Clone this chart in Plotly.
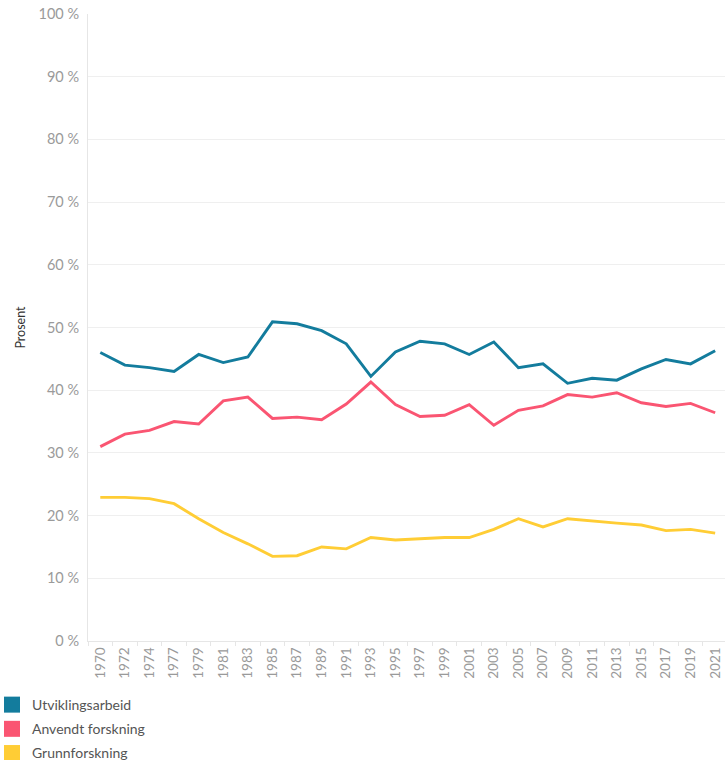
import plotly.graph_objects as go

years = ["1970", "1972", "1974", "1977", "1979", "1981", "1983", "1985", "1987", "1989",
         "1991", "1993", "1995", "1997", "1999", "2001", "2003", "2005", "2007", "2009",
         "2011", "2013", "2015", "2017", "2019", "2021"]

utvikling = [46.0, 44.0, 43.6, 43.0, 45.7, 44.4, 45.3, 50.9, 50.6, 49.5,
             47.4, 42.2, 46.1, 47.8, 47.4, 45.7, 47.7, 43.6, 44.2, 41.1,
             41.9, 41.6, 43.4, 44.9, 44.2, 46.3]
anvendt = [31.0, 33.0, 33.6, 35.0, 34.6, 38.3, 38.9, 35.5, 35.7, 35.3,
           37.8, 41.3, 37.7, 35.8, 36.0, 37.7, 34.4, 36.8, 37.5, 39.3,
           38.9, 39.6, 38.0, 37.4, 37.9, 36.4]
grunn = [22.9, 22.9, 22.7, 21.9, 19.5, 17.3, 15.5, 13.5, 13.6, 15.0,
         14.7, 16.5, 16.1, 16.3, 16.5, 16.5, 17.8, 19.5, 18.2, 19.5,
         19.1, 18.8, 18.5, 17.6, 17.8, 17.2]

series_names = ["Utviklingsarbeid", "Anvendt forskning", "Grunnforskning"]
series_values = [utvikling, anvendt, grunn]
colors = ["#137C9D", "#FA5572", "#FFCD35"]

y_ticks = list(range(0, 101, 10))
y_ticktext = [f"{v} %" for v in y_ticks]

fig = go.Figure()
for name, vals, col in zip(series_names, series_values, colors):
    fig.add_trace(go.Scatter(x=years, y=vals, mode="lines", name=name,
                             line=dict(color=col, width=2.9), showlegend=False,
                             hovertemplate="%{x}: %{y:.1f} %<extra>" + name + "</extra>"))
for i, (name, col) in enumerate(zip(series_names, colors)):
    fig.add_trace(go.Scatter(x=[None], y=[None], mode="markers", name=name,
                             marker=dict(symbol="square", size=16, color=col),
                             legendgroup=f"g{i}", showlegend=True))

fig.update_layout(
    width=725, height=760,
    margin=dict(l=88, r=0, t=14, b=119, autoexpand=False),
    plot_bgcolor="white", paper_bgcolor="white",
    font=dict(family="Lato, Open Sans, sans-serif", color="#555555"),
    legend=dict(x=-0.1507, y=-0.0766,
                xanchor="left", yanchor="top", font=dict(size=14, color="#555555"),
                tracegroupgap=3, itemwidth=30, bgcolor="rgba(0,0,0,0)"),
    showlegend=True,
)
fig.update_xaxes(
    type="category", categoryorder="array", categoryarray=years,
    range=[-0.5, 25.4], tickangle=-90, tickfont=dict(size=13.5, color="#9a9a9a"),
    showgrid=False, showline=True, linecolor="#e6e6e6", linewidth=1,
    ticks="outside", tickson="boundaries", ticklen=4, tickcolor="#e6e6e6",
    zeroline=False, automargin=False, ticklabeloverflow="allow",
)
fig.update_yaxes(
    range=[0, 100], tickvals=y_ticks, ticktext=y_ticktext,
    tickfont=dict(size=14.5, color="#9a9a9a"), ticklabelstandoff=5,
    ticklabeloverflow="allow",
    showgrid=True, gridcolor="#efefef", gridwidth=1,
    showline=True, linecolor="#e6e6e6", linewidth=1, zeroline=False,
    title=dict(text="Prosent", font=dict(size=12.5, color="#333333"), standoff=10),
    automargin=False,
)

fig.write_html("out.html", config={"displayModeBar": False},
               post_script="document.body.style.margin='0';document.body.style.overflow='hidden';")
